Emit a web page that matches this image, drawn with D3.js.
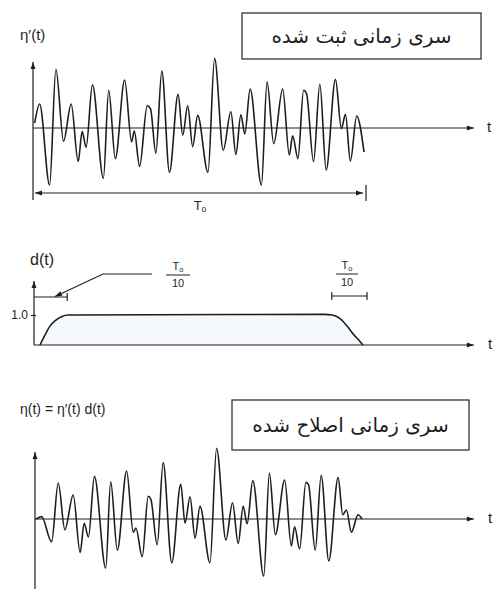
<!DOCTYPE html>
<html>
<head>
<meta charset="utf-8">
<script src="https://cdn.jsdelivr.net/npm/d3@7"></script>
<style>
  body { margin: 0; background: #fff; }
</style>
</head>
<body>
<div id="chart"></div>
<script>
// recorded series η'(t): time (s, T0 = 10) and amplitude at the turning points
const recordedT = [0.02, 0.17, 0.47, 0.66, 0.89, 1.12, 1.33, 1.45, 1.57, 1.76, 2.09, 2.25, 2.45, 2.73,
  2.94, 3.02, 3.18, 3.41, 3.51, 3.67, 3.85, 4.08, 4.34, 4.48, 4.63, 4.78, 4.93, 5.24, 5.44, 5.70,
  5.93, 6.08, 6.23, 6.35, 6.51, 6.85, 7.02, 7.22, 7.49, 7.69, 7.79, 7.95, 8.12, 8.21, 8.42, 8.61,
  8.80, 9.08, 9.26, 9.38, 9.53, 9.72, 9.94];
const recordedA = [0.08, 0.40, -0.95, 0.98, -0.22, 0.40, -0.56, -0.06, -0.32, 0.72, -0.84, 0.63, -0.51, 0.80,
  -0.23, -0.05, -0.64, 0.37, 0.32, -0.42, 0.95, -0.74, 0.56, -0.12, 0.37, -0.31, 0.21, -0.74, 1.16, -0.37,
  0.27, -0.44, 0.22, -0.10, 0.65, -0.95, 0.77, -0.26, 0.65, -0.45, -0.13, -0.51, 0.63, 0.57, -0.56, 0.73,
  -0.70, 0.81, -0.01, 0.23, -0.55, 0.20, -0.40];

// taper window d(t)
const envT = [0.18, 0.33, 0.48, 0.66, 0.84, 1.02, 8.77, 8.98, 9.22, 9.43, 9.64, 9.82, 9.91];
const envD = [0, 0.33, 0.63, 0.83, 0.95, 1.0, 1.02, 1.0, 0.88, 0.63, 0.33, 0.12, 0];

// modified series η(t) = η'(t) d(t)
const modifiedT = [0.06, 0.23, 0.53, 0.73, 0.93, 1.18, 1.39, 1.51, 1.64, 1.82, 2.16, 2.31, 2.51, 2.79,
  2.99, 3.07, 3.26, 3.44, 3.52, 3.71, 3.89, 4.15, 4.42, 4.55, 4.70, 4.85, 5.00, 5.30, 5.50, 5.78,
  5.98, 6.15, 6.30, 6.42, 6.59, 6.92, 7.09, 7.27, 7.55, 7.75, 7.85, 8.00, 8.19, 8.27, 8.47, 8.65,
  8.88, 9.16, 9.30, 9.41, 9.56, 9.76, 9.88];
const modifiedA = [0.00, 0.04, -0.38, 0.60, -0.18, 0.40, -0.56, -0.07, -0.30, 0.71, -0.82, 0.62, -0.52, 0.80,
  -0.22, -0.15, -0.63, 0.38, 0.33, -0.43, 0.94, -0.73, 0.58, -0.07, 0.37, -0.32, 0.21, -0.73, 1.18, -0.35,
  0.27, -0.41, 0.21, -0.08, 0.64, -0.95, 0.76, -0.26, 0.65, -0.45, -0.13, -0.50, 0.61, 0.57, -0.52, 0.73,
  -0.70, 0.69, 0.07, 0.15, -0.22, 0.07, 0.00];

const T0 = 10;
const tEnd = 13.25;
const titleTop = "سری زمانی ثبت شده";
const titleBottom = "سری زمانی اصلاح شده";

const width = 496, height = 589;
const ink = "#1e1e1e";
const latin = "'Liberation Sans', Arial, sans-serif";
const persian = "'DejaVu Sans', sans-serif";

const svg = d3.select("#chart").append("svg")
  .attr("width", width)
  .attr("height", height);

const defs = svg.append("defs");
defs.append("marker")
  .attr("id", "arr")
  .attr("viewBox", "0 0 10 10")
  .attr("refX", 10).attr("refY", 5)
  .attr("markerWidth", 8).attr("markerHeight", 7)
  .attr("markerUnits", "userSpaceOnUse")
  .attr("orient", "auto-start-reverse")
  .append("path")
  .attr("d", "M0,1.5 L10,5 L0,8.5 z")
  .attr("fill", ink);

const x = d3.scaleLinear().domain([0, T0]).range([34, 366]);

const toPoints = (ts, vs) => ts.map((t, i) => [t, vs[i]]);

function hline(g, y, x1, x2, arrowEnd, arrowStart) {
  const l = g.append("line")
    .attr("x1", x1).attr("x2", x2)
    .attr("y1", y).attr("y2", y)
    .attr("stroke", ink).attr("stroke-width", 1.2);
  if (arrowEnd) l.attr("marker-end", "url(#arr)");
  if (arrowStart) l.attr("marker-start", "url(#arr)");
  return l;
}

function vline(g, xp, y1, y2, arrowEnd) {
  const l = g.append("line")
    .attr("x1", xp).attr("x2", xp)
    .attr("y1", y1).attr("y2", y2)
    .attr("stroke", ink).attr("stroke-width", 1.2);
  if (arrowEnd) l.attr("marker-end", "url(#arr)");
  return l;
}

function label(g, xp, yp, txt, size, anchor) {
  return g.append("text")
    .attr("x", xp).attr("y", yp)
    .attr("font-family", latin)
    .attr("font-size", size)
    .attr("fill", ink)
    .attr("text-anchor", anchor || "start")
    .attr("dominant-baseline", "middle")
    .text(txt);
}

function titleBox(g, x1, y1, x2, y2, txt, size) {
  g.append("rect")
    .attr("x", x1).attr("y", y1)
    .attr("width", x2 - x1).attr("height", y2 - y1)
    .attr("fill", "#fff")
    .attr("stroke", "#333").attr("stroke-width", 1.3);
  g.append("text")
    .attr("x", (x1 + x2) / 2).attr("y", (y1 + y2) / 2 + 1)
    .attr("font-family", persian)
    .attr("font-size", size)
    .attr("fill", ink)
    .attr("text-anchor", "middle")
    .attr("dominant-baseline", "middle")
    .text(txt);
}

function fraction(g, cx, yTop, barW) {
  const t = g.append("text")
    .attr("x", cx).attr("y", yTop)
    .attr("font-family", latin).attr("font-size", 11)
    .attr("fill", ink).attr("text-anchor", "middle")
    .attr("dominant-baseline", "middle");
  t.append("tspan").text("T");
  t.append("tspan").attr("font-size", 7.5).attr("dy", 3).text("o");
  g.append("line")
    .attr("x1", cx - barW / 2).attr("x2", cx + barW / 2)
    .attr("y1", yTop + 8).attr("y2", yTop + 8)
    .attr("stroke", ink).attr("stroke-width", 1);
  label(g, cx, yTop + 17, "10", 11, "middle");
}

const wave = y => d3.line()
  .x(d => x(d[0]))
  .y(d => y(d[1]))
  .curve(d3.curveMonotoneX);

// ---- panel 1: recorded time series
const p1 = svg.append("g");
const y1 = d3.scaleLinear().domain([-1, 1]).range([188, 68]);

hline(p1, y1(0), x(0) - 1, x(tEnd), true);
vline(p1, x(0) - 1, 200, 62, true);

p1.append("path")
  .datum(toPoints(recordedT, recordedA))
  .attr("d", wave(y1))
  .attr("fill", "none")
  .attr("stroke", ink)
  .attr("stroke-width", 1.6)
  .attr("stroke-linejoin", "round");

// T0 dimension
hline(p1, 193, x(0) + 1, x(T0) - 3, true, true);
vline(p1, x(T0), 185, 201, false);
const t0 = p1.append("text")
  .attr("x", x(T0 / 2)).attr("y", 207)
  .attr("font-family", latin).attr("font-size", 13)
  .attr("fill", ink).attr("text-anchor", "middle")
  .attr("dominant-baseline", "middle");
t0.append("tspan").text("T");
t0.append("tspan").attr("font-size", 8.5).attr("dy", 3).text("o");

label(p1, 20, 36, "η′(t)", 15);
label(p1, 487, 128, "t", 15);
titleBox(p1, 242, 13, 481, 59, titleTop, 20);

// ---- panel 2: taper window
const p2 = svg.append("g");
const y2 = d3.scaleLinear().domain([0, 1]).range([345, 315]);

p2.append("path")
  .datum(toPoints(envT, envD))
  .attr("d", d3.area().x(d => x(d[0])).y0(y2(0)).y1(d => y2(d[1])).curve(d3.curveMonotoneX))
  .attr("fill", "#f5f8fc");

hline(p2, y2(0), x(0), x(tEnd), true);
vline(p2, x(0), y2(0), 281, true);

p2.append("g")
  .attr("transform", `translate(${x(0) + 2},0)`)
  .call(d3.axisLeft(y2).tickValues([1]).tickSize(5).tickFormat(d3.format(".1f")))
  .call(g => g.select(".domain").remove())
  .call(g => g.selectAll("line").attr("stroke", ink).attr("stroke-width", 1.2))
  .call(g => g.selectAll("text").attr("font-family", latin).attr("font-size", 12)
    .attr("fill", ink).attr("x", -8));

p2.append("path")
  .datum(toPoints(envT, envD))
  .attr("d", wave(y2))
  .attr("fill", "none")
  .attr("stroke", ink)
  .attr("stroke-width", 1.6);

// left T0/10 dimension with leader
hline(p2, 297, x(0), x(T0 / 10), false);
vline(p2, x(T0 / 10), 293, 301, false);
p2.append("path")
  .attr("d", `M152,274 L103,274 L55,296.5`)
  .attr("fill", "none")
  .attr("stroke", ink).attr("stroke-width", 1.1)
  .attr("marker-end", "url(#arr)");
fraction(p2, 178, 267, 24);

// right T0/10 dimension
hline(p2, 296, x(T0 - T0 / 10) - 1, x(T0) + 1, false);
vline(p2, x(T0 - T0 / 10) - 1, 292, 300, false);
vline(p2, x(T0) + 1, 292, 300, false);
fraction(p2, 347, 266, 22);

label(p2, 30, 261, "d(t)", 16);
label(p2, 488, 345, "t", 15);

// ---- panel 3: modified time series
const p3 = svg.append("g");
const y3 = d3.scaleLinear().domain([-1, 1]).range([579, 459]);

hline(p3, y3(0), x(0) + 1, x(tEnd), true);
vline(p3, x(0) + 1, height + 2, 452, true);

p3.append("path")
  .datum(toPoints(modifiedT, modifiedA))
  .attr("d", wave(y3))
  .attr("fill", "none")
  .attr("stroke", ink)
  .attr("stroke-width", 1.6)
  .attr("stroke-linejoin", "round");

label(p3, 20, 410, "η(t) = η′(t) d(t)", 14);
label(p3, 488, 519, "t", 15);
titleBox(p3, 232, 400, 469, 450, titleBottom, 20);
</script>
</body>
</html>
